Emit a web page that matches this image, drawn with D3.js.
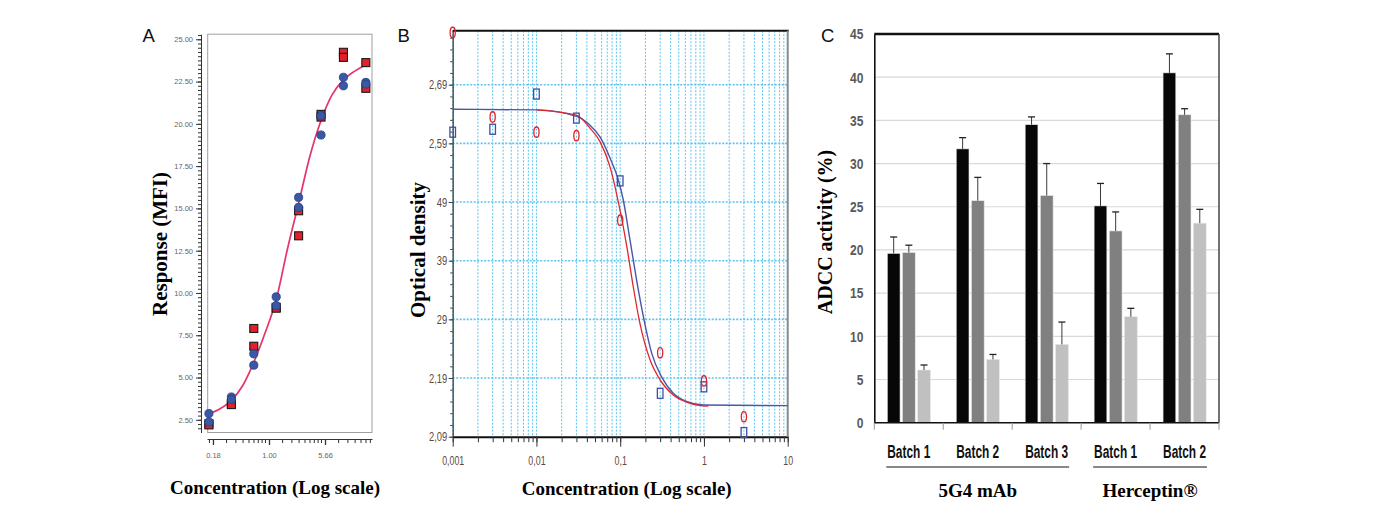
<!DOCTYPE html>
<html>
<head>
<meta charset="utf-8">
<script src="https://cdnjs.cloudflare.com/ajax/libs/d3/7.8.5/d3.min.js"></script>
<style>
body { margin: 0; background: #fff; }
svg { display: block; }
.serif { font-family: "Liberation Serif", "Times New Roman", serif; font-weight: bold; }
.narrow { font-family: "Liberation Sans", Arial, sans-serif; }
</style>
</head>
<body>
<script>
// PANEL A DATA (response vs concentration, two replicates per series)
var concA = [0.156, 0.3125, 0.625, 1.25, 2.5, 5, 10, 20];
var redA1 = [2.27, 3.46, 7.9, 9.15, 14.86, 20.56, 24.23, 23.62];
var redA2 = [2.2, 3.4, 6.85, 9.1, 13.38, 20.4, 23.93, 22.1];
var blueA1 = [2.87, 3.85, 6.4, 9.77, 15.65, 20.48, 22.75, 22.45];
var blueA2 = [2.37, 3.7, 5.73, 9.25, 15.06, 19.34, 22.25, 22.35];
var curveA = [[0.156, 2.85], [0.22, 3.15], [0.3125, 3.65], [0.44, 4.5], [0.625, 5.9], [0.88, 7.6],
	[1.25, 9.6], [1.77, 12.6], [2.5, 15.3], [3.5, 18.0], [5, 20.2], [7, 21.7], [10, 22.6], [14, 23.1], [20, 23.5]];
var yTicksA = [2.5, 5, 7.5, 10, 12.5, 15, 17.5, 20, 22.5, 25];
var xTicksA = [0.1768, 1, 5.657];
var xTickLabelsA = ["0.18", "1.00", "5.66"];
var minorStepsA = [1.5, 2, 2.5, 3, 3.5, 4, 4.5, 5];

// PANEL B DATA (optical density)
var concB = [0.001, 0.003, 0.01, 0.03, 0.1, 0.3, 1, 3];
var redB = [2.779, 2.635, 2.609, 2.603, 2.459, 2.233, 2.185, 2.124];
var blueB = [2.609, 2.614, 2.674, 2.633, 2.526, 2.164, 2.175, 2.097];
var blueCurveB = [[0.001, 2.648], [0.01, 2.647], [0.03, 2.636], [0.0436, 2.621], [0.0574, 2.601], [0.0756, 2.565],
	[0.0949, 2.528], [0.109, 2.493], [0.131, 2.425], [0.157, 2.357], [0.189, 2.295], [0.238, 2.232],
	[0.312, 2.192], [0.43, 2.164], [0.62, 2.150], [0.98, 2.144], [10, 2.143]];
var redCurveB = [[0.01, 2.647], [0.03, 2.638], [0.0436, 2.616], [0.0574, 2.593], [0.0756, 2.550], [0.0995, 2.476],
	[0.12, 2.414], [0.143, 2.346], [0.172, 2.283], [0.227, 2.221], [0.299, 2.187], [0.43, 2.161],
	[0.68, 2.147], [1.13, 2.142]];
var yTicksB = [2.09, 2.19, 2.29, 2.39, 2.49, 2.59, 2.69];
var yTickLabelsB = ["2,09", "2,19", "29", "39", "49", "2,59", "2,69"];
var xTicksB = [0.001, 0.01, 0.1, 1, 10];
var xTickLabelsB = ["0,001", "0,01", "0,1", "1", "10"];

// PANEL C DATA (ADCC activity, three series per batch)
var batches = ["Batch 1", "Batch 2", "Batch 3", "Batch 1", "Batch 2"];
var seriesC1 = [19.6, 31.7, 34.5, 25.1, 40.5];
var seriesC2 = [19.7, 25.7, 26.3, 22.2, 35.65];
var seriesC3 = [6.1, 7.33, 9.07, 12.27, 23.1];
var errC1 = [1.9, 1.3, 0.9, 2.6, 2.2];
var errC2 = [0.85, 2.7, 3.7, 2.2, 0.7];
var errC3 = [0.58, 0.57, 2.58, 0.97, 1.6];
var groupsC = ["5G4 mAb", "Herceptin®"];
var groupSpans = [[0, 2], [3, 4]];
var yTicksC = [0, 5, 10, 15, 20, 25, 30, 35, 40, 45];

// squeeze text horizontally (no condensed font installed)
function squeeze(sel, f) {
	sel.each(function() {
		var w = this.getComputedTextLength();
		d3.select(this).attr("textLength", w * f).attr("lengthAdjust", "spacingAndGlyphs");
	});
}

var svg = d3.select("body").append("svg")
	.attr("width", 1375)
	.attr("height", 531);

svg.append("rect").attr("width", 1375).attr("height", 531).attr("fill", "#fff");

// ================= PANEL A =================
var xA = d3.scaleLog().domain([0.147, 24.2]).range([207, 372]);
var yA = d3.scaleLinear().domain([1.75, 25.3]).range([432.5, 34.2]);

svg.append("rect")
	.attr("x", 207.7).attr("y", yA.range()[1])
	.attr("width", 372 - 207.7).attr("height", yA.range()[0] - yA.range()[1])
	.attr("fill", "none").attr("stroke", "#a0a0a0").attr("stroke-width", 1);

var minorYA = d3.range(2, 25.3, 0.25);
var yAxisMinorA = svg.append("g")
	.attr("transform", "translate(201,0)")
	.call(d3.axisLeft(yA).tickValues(minorYA).tickSize(3).tickSizeOuter(0).tickFormat(""));
yAxisMinorA.selectAll("path, line").attr("stroke", "#333");

var yAxisA = svg.append("g")
	.attr("transform", "translate(201,0)")
	.call(d3.axisLeft(yA).tickValues(yTicksA).tickSize(5).tickPadding(3).tickFormat(d3.format(".2f")));
yAxisA.select(".domain").remove();
yAxisA.selectAll("line").attr("stroke", "#333");
yAxisA.selectAll("text").style("font-family", "Liberation Sans, Arial, sans-serif").style("font-size", "7.5px").attr("fill", "#666");

var minorXA = [];
xTicksA.concat([xTicksA[0] / 5.657]).forEach(function(m) {
	minorStepsA.forEach(function(k) {
		var v = m * k;
		if (v > xA.domain()[0] && v < xA.domain()[1]) minorXA.push(v);
	});
});

var xAxisMinorA = svg.append("g")
	.attr("transform", "translate(0,439)")
	.call(d3.axisBottom(xA).tickValues(minorXA).tickSize(4).tickSizeOuter(0).tickFormat(""));
xAxisMinorA.selectAll("path, line").attr("stroke", "#333");

var xAxisA = svg.append("g")
	.attr("transform", "translate(0,439)")
	.call(d3.axisBottom(xA).tickValues(xTicksA).tickSize(6).tickPadding(8)
		.tickFormat(function(d, i) { return xTickLabelsA[i]; }));
xAxisA.select(".domain").remove();
xAxisA.selectAll("line").attr("stroke", "#333").attr("stroke-width", 1.3);
xAxisA.selectAll("text").style("font-family", "Liberation Sans, Arial, sans-serif").style("font-size", "7.5px").attr("fill", "#666");

svg.append("path")
	.datum(curveA)
	.attr("d", d3.line().x(function(d) { return xA(d[0]); }).y(function(d) { return yA(d[1]); }).curve(d3.curveMonotoneX))
	.attr("fill", "none").attr("stroke", "#e6336b").attr("stroke-width", 1.7);

[redA1, redA2].forEach(function(s) {
	svg.append("g").selectAll("rect")
		.data(s)
		.enter().append("rect")
		.attr("x", function(d, i) { return xA(concA[i]) - 4; })
		.attr("y", function(d) { return yA(d) - 4; })
		.attr("width", 8).attr("height", 8)
		.attr("fill", "#e3202a").attr("stroke", "#1a1a1a").attr("stroke-width", 1.1);
});

[blueA1, blueA2].forEach(function(s) {
	svg.append("g").selectAll("circle")
		.data(s)
		.enter().append("circle")
		.attr("cx", function(d, i) { return xA(concA[i]); })
		.attr("cy", function(d) { return yA(d); })
		.attr("r", 4.1)
		.attr("fill", "#3a58a6").attr("stroke", "#24407f").attr("stroke-width", 0.8);
});

svg.append("text")
	.attr("class", "serif")
	.attr("transform", "translate(166.5,244) rotate(-90)")
	.attr("text-anchor", "middle")
	.style("font-size", "21px")
	.text("Response (MFI)");

svg.append("text")
	.attr("class", "serif")
	.attr("x", 275).attr("y", 493.5)
	.attr("text-anchor", "middle")
	.style("font-size", "19px")
	.text("Concentration (Log scale)");

// ================= PANEL B =================
var xB = d3.scaleLog().domain([0.001, 10]).range([452.7, 787.7]);
var yB = d3.scaleLinear().domain([2.09, 2.782]).range([436.7, 30.7]);

// GRID
svg.append("g").selectAll("line")
	.data(xB.ticks())
	.enter().append("line")
	.attr("x1", function(d) { return xB(d); }).attr("x2", function(d) { return xB(d); })
	.attr("y1", yB.range()[1]).attr("y2", yB.range()[0])
	.attr("stroke", "#5cc3ec").attr("stroke-width", 1).attr("stroke-dasharray", "2,1.5");

svg.append("g").selectAll("line")
	.data(yTicksB.slice(1))
	.enter().append("line")
	.attr("x1", xB.range()[0]).attr("x2", xB.range()[1])
	.attr("y1", function(d) { return yB(d); }).attr("y2", function(d) { return yB(d); })
	.attr("stroke", "#5cc3ec").attr("stroke-width", 1.6).attr("stroke-dasharray", "2,1.5");

// AXES
var yAxisMinorB = svg.append("g")
	.attr("transform", "translate(" + xB.range()[0] + ",0)")
	.call(d3.axisLeft(yB).tickValues(d3.range(2.09, 2.785, 0.02)).tickSize(2.5).tickSizeOuter(0).tickFormat(""));
yAxisMinorB.selectAll("path").attr("stroke", "#555").attr("stroke-width", 1.5);
yAxisMinorB.selectAll("line").attr("stroke", "#444");

var yAxisB = svg.append("g")
	.attr("transform", "translate(" + xB.range()[0] + ",0)")
	.call(d3.axisLeft(yB).tickValues(yTicksB).tickSize(4).tickPadding(1.5)
		.tickFormat(function(d, i) { return yTickLabelsB[i]; }));
yAxisB.select(".domain").remove();
yAxisB.selectAll("line").attr("stroke", "#444");
yAxisB.selectAll("text").attr("class", "narrow").style("font-size", "13px").attr("fill", "#5b4a3c");
squeeze(yAxisB.selectAll("text"), 0.72);

var xAxisMinorB = svg.append("g")
	.attr("transform", "translate(0," + yB.range()[0] + ")")
	.call(d3.axisBottom(xB).tickValues(xB.ticks()).tickSize(5.5).tickSizeOuter(0).tickFormat(""));
xAxisMinorB.selectAll("path").attr("stroke", "#111").attr("stroke-width", 2);
xAxisMinorB.selectAll("line").attr("stroke", "#333");

var xAxisB = svg.append("g")
	.attr("transform", "translate(0," + yB.range()[0] + ")")
	.call(d3.axisBottom(xB).tickValues(xTicksB).tickSize(10).tickPadding(9)
		.tickFormat(function(d, i) { return xTickLabelsB[i]; }));
xAxisB.select(".domain").remove();
xAxisB.selectAll("line").attr("stroke", "#333");
xAxisB.selectAll("text").attr("class", "narrow").style("font-size", "13px").attr("fill", "#5b4a3c");
squeeze(xAxisB.selectAll("text"), 0.68);

svg.append("line")
	.attr("x1", xB.range()[0]).attr("x2", xB.range()[1] + 1)
	.attr("y1", yB.range()[1]).attr("y2", yB.range()[1])
	.attr("stroke", "#111").attr("stroke-width", 2);

svg.append("line")
	.attr("x1", xB.range()[1]).attr("x2", xB.range()[1])
	.attr("y1", yB.range()[1]).attr("y2", yB.range()[0])
	.attr("stroke", "#8a8a8a").attr("stroke-width", 2);

// CURVES
var lineB = d3.line().x(function(d) { return xB(d[0]); }).y(function(d) { return yB(d[1]); }).curve(d3.curveMonotoneX);

svg.append("path").datum(blueCurveB).attr("d", lineB)
	.attr("fill", "none").attr("stroke", "#4858a8").attr("stroke-width", 1.4);
svg.append("path").datum(redCurveB).attr("d", lineB)
	.attr("fill", "none").attr("stroke", "#e3262e").attr("stroke-width", 1.3);

// MARKERS
svg.append("g").selectAll("rect")
	.data(blueB)
	.enter().append("rect")
	.attr("x", function(d, i) { return xB(concB[i]) - 2.8; })
	.attr("y", function(d) { return yB(d) - 5; })
	.attr("width", 5.6).attr("height", 10)
	.attr("fill", "none").attr("stroke", "#3d4fa3").attr("stroke-width", 1.3);

svg.append("g").selectAll("ellipse")
	.data(redB)
	.enter().append("ellipse")
	.attr("cx", function(d, i) { return xB(concB[i]); })
	.attr("cy", function(d) { return yB(d); })
	.attr("rx", 2.6).attr("ry", 5.2)
	.attr("fill", "none").attr("stroke", "#e3222a").attr("stroke-width", 1.3);

svg.append("text")
	.attr("class", "serif")
	.attr("transform", "translate(424.5,250) rotate(-90)")
	.attr("text-anchor", "middle")
	.style("font-size", "21px")
	.text("Optical density");

svg.append("text")
	.attr("class", "serif")
	.attr("x", 626.7).attr("y", 495)
	.attr("text-anchor", "middle")
	.style("font-size", "19px")
	.text("Concentration (Log scale)");

// ================= PANEL C =================
var xC = d3.scaleBand().domain(d3.range(batches.length)).range([874.3, 1219]);
var xInner = d3.scaleBand().domain([0, 1, 2]).range([13, 56.1]).paddingInner(0.16);
var yC = d3.scaleLinear().domain([0, 45]).range([422.7, 34]);

svg.append("g").selectAll("line")
	.data(yTicksC.slice(1, -1))
	.enter().append("line")
	.attr("x1", xC.range()[0]).attr("x2", xC.range()[1])
	.attr("y1", function(d) { return yC(d); }).attr("y2", function(d) { return yC(d); })
	.attr("stroke", "#d9d9d9").attr("stroke-width", 1.2);

var seriesC = [seriesC1, seriesC2, seriesC3];
var errC = [errC1, errC2, errC3];
var colorsC = ["#070707", "#808080", "#c0c0c0"];

seriesC.forEach(function(s, k) {
	var g = svg.append("g");
	g.selectAll("rect")
		.data(s)
		.enter().append("rect")
		.attr("x", function(d, i) { return xC(i) + xInner(k); })
		.attr("y", function(d) { return yC(d); })
		.attr("width", xInner.bandwidth())
		.attr("height", function(d) { return yC(0) - yC(d); })
		.attr("fill", colorsC[k]).attr("stroke", "#e6e6e6").attr("stroke-width", 0.6);
	g.selectAll("line.err")
		.data(s)
		.enter().append("line")
		.attr("class", "err")
		.attr("x1", function(d, i) { return xC(i) + xInner(k) + xInner.bandwidth() / 2; })
		.attr("x2", function(d, i) { return xC(i) + xInner(k) + xInner.bandwidth() / 2; })
		.attr("y1", function(d) { return yC(d); })
		.attr("y2", function(d, i) { return yC(d + errC[k][i]); })
		.attr("stroke", "#3a3a3a").attr("stroke-width", 1);
	g.selectAll("line.cap")
		.data(s)
		.enter().append("line")
		.attr("class", "cap")
		.attr("x1", function(d, i) { return xC(i) + xInner(k) + xInner.bandwidth() / 2 - 3.5; })
		.attr("x2", function(d, i) { return xC(i) + xInner(k) + xInner.bandwidth() / 2 + 3.5; })
		.attr("y1", function(d, i) { return yC(d + errC[k][i]); })
		.attr("y2", function(d, i) { return yC(d + errC[k][i]); })
		.attr("stroke", "#222").attr("stroke-width", 1.3);
});

var yAxisC = svg.append("g")
	.attr("transform", "translate(" + xC.range()[0] + ",0)")
	.call(d3.axisLeft(yC).tickValues(yTicksC).tickSize(0).tickPadding(11));
yAxisC.select(".domain").attr("stroke", "#111").attr("stroke-width", 1.6);
yAxisC.selectAll("text").attr("class", "narrow").style("font-size", "15px").style("font-weight", "bold").attr("fill", "#595959");
squeeze(yAxisC.selectAll("text"), 0.8);

// category axis
var bounds = xC.domain().map(function(i) { return xC(i); }).concat([xC.range()[1]]);
svg.append("line")
	.attr("x1", xC.range()[0]).attr("x2", xC.range()[1])
	.attr("y1", yC(0)).attr("y2", yC(0))
	.attr("stroke", "#111").attr("stroke-width", 1.5);
svg.append("g").selectAll("line")
	.data(bounds)
	.enter().append("line")
	.attr("x1", function(d) { return d; }).attr("x2", function(d) { return d; })
	.attr("y1", yC(0)).attr("y2", yC(0) + 7)
	.attr("stroke", "#999").attr("stroke-width", 1);

var catLabels = svg.append("g").selectAll("text")
	.data(batches)
	.enter().append("text")
	.attr("class", "narrow")
	.attr("x", function(d, i) { return xC(i) + xC.bandwidth() / 2; })
	.attr("y", 458)
	.attr("text-anchor", "middle")
	.style("font-size", "17.5px")
	.style("font-weight", "bold")
	.attr("fill", "#111")
	.text(function(d) { return d; });
squeeze(catLabels, 0.68);

svg.append("line")
	.attr("x1", xC.range()[0]).attr("x2", xC.range()[1])
	.attr("y1", yC(45)).attr("y2", yC(45))
	.attr("stroke", "#111").attr("stroke-width", 2.5);
svg.append("line")
	.attr("x1", xC.range()[1]).attr("x2", xC.range()[1])
	.attr("y1", yC(45)).attr("y2", yC(0))
	.attr("stroke", "#444").attr("stroke-width", 1.5);

// group labels
groupSpans.forEach(function(sp, j) {
	var x0 = xC(sp[0]) + 12, x1 = xC(sp[1]) + xC.bandwidth() - 12;
	svg.append("line")
		.attr("x1", x0).attr("x2", x1).attr("y1", 467).attr("y2", 467)
		.attr("stroke", "#111").attr("stroke-width", 1);
	svg.append("text")
		.attr("class", "serif")
		.attr("x", (x0 + x1) / 2).attr("y", 496.5)
		.attr("text-anchor", "middle")
		.style("font-size", "19px")
		.text(groupsC[j]);
});

svg.append("text")
	.attr("class", "serif")
	.attr("transform", "translate(831.5,232) rotate(-90)")
	.attr("text-anchor", "middle")
	.style("font-size", "20px")
	.text("ADCC activity (%)");

// PANEL LETTERS
[["A", 142.5], ["B", 397.5], ["C", 821]].forEach(function(p) {
	svg.append("text")
		.attr("x", p[1]).attr("y", 41.7)
		.style("font-family", "Liberation Sans, Arial, sans-serif")
		.style("font-size", "18.5px")
		.attr("fill", "#111")
		.text(p[0]);
});
</script>
</body>
</html>
